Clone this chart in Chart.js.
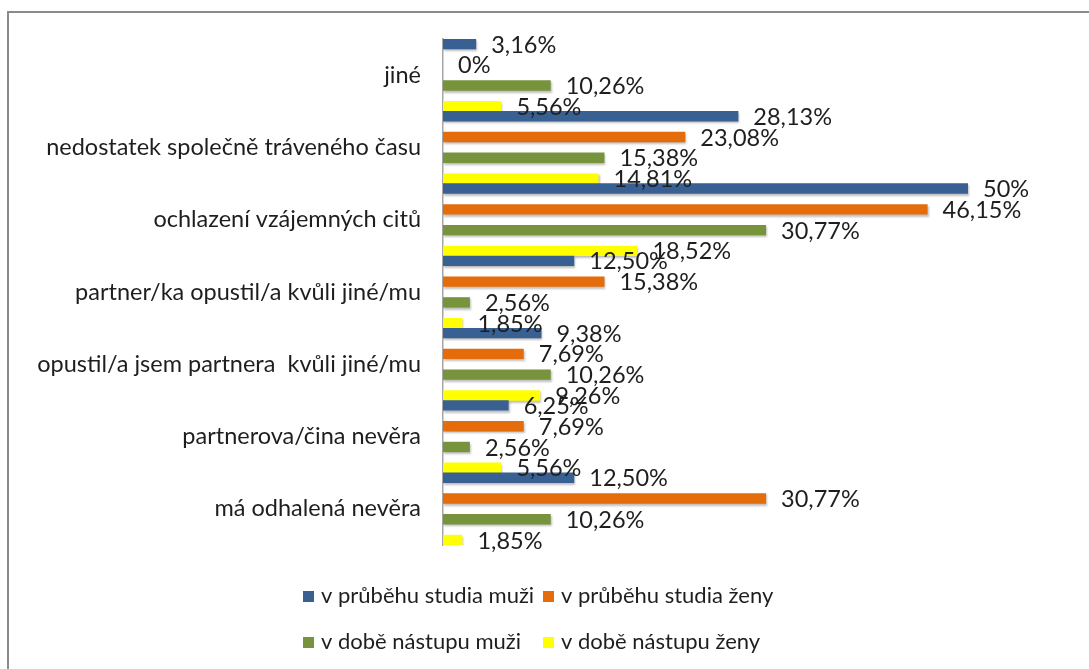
<!DOCTYPE html>
<html>
<head>
<meta charset="utf-8">
<script src="https://cdn.jsdelivr.net/npm/chart.js@4.4.0/dist/chart.umd.min.js"></script>
<style>
  html, body { margin: 0; padding: 0; background: #fff; }
  #wrap { width: 1089px; height: 669px; position: relative; }
</style>
</head>
<body>
<div id="wrap"><canvas id="chart"></canvas></div>
<script>
const categories = [
    'jiné',
    'nedostatek společně tráveného času',
    'ochlazení vzájemných citů',
    'partner/ka opustil/a kvůli jiné/mu',
    'opustil/a jsem partnera  kvůli jiné/mu',
    'partnerova/čina nevěra',
    'má odhalená nevěra'
];
const seriesNames = [
    'v průběhu studia muži',
    'v průběhu studia ženy',
    'v době nástupu muži',
    'v době nástupu ženy'
];
const studyMen   = [3.16, 28.13, 50, 12.50, 9.38, 6.25, 12.50];
const studyWomen = [0, 23.08, 46.15, 15.38, 7.69, 7.69, 30.77];
const startMen   = [10.26, 15.38, 30.77, 2.56, 10.26, 2.56, 10.26];
const startWomen = [5.56, 14.81, 18.52, 1.85, 9.26, 5.56, 1.85];

const seriesColors = ['#386093', '#e46c0a', '#77933c', '#ffff00'];
const FONT = 'Lato, "DejaVu Sans", sans-serif';
const ctx = document.getElementById('chart').getContext('2d');

// 3,16% style: integers without decimals, the rest with two
function formatPct(v) {
    const s = Number.isInteger(v) ? String(v) : v.toFixed(2);
    return s.replace('.', ',') + '%';
}

// frame of the original picture (only top and left edges are visible)
const framePlugin = {
    id: 'frame',
    beforeDraw(chart) {
        const c = chart.ctx;
        c.save();
        c.fillStyle = '#fff';
        c.fillRect(0, 0, chart.width, chart.height);
        c.strokeStyle = '#8a8a8a';
        c.lineWidth = 2;
        c.beginPath();
        c.moveTo(1089, 12);
        c.lineTo(8, 12);
        c.lineTo(8, 669);
        c.stroke();
        c.restore();
    }
};

// soft shadow under bars + value labels next to the bar ends
const barLabels = {
    id: 'barLabels',
    beforeDatasetsDraw(chart) {
        const c = chart.ctx;
        c.save();
        c.shadowColor = 'rgba(0,0,0,0.25)';
        c.shadowOffsetX = 1;
        c.shadowOffsetY = 2;
        c.shadowBlur = 2;
    },
    afterDatasetsDraw(chart) {
        const c = chart.ctx;
        c.restore();
        c.save();
        c.font = '23.5px ' + FONT;
        c.fillStyle = '#1e1e1e';
        c.textBaseline = 'middle';
        c.textAlign = 'left';
        chart.data.datasets.forEach((ds, i) => {
            chart.getDatasetMeta(i).data.forEach((bar, j) => {
                c.fillText(formatPct(ds.data[j]), bar.x + 15, bar.y + 1);
            });
        });
        c.restore();
    }
};

// legend in two columns, like the original
const gridLegend = {
    id: 'gridLegend',
    afterDraw(chart) {
        const c = chart.ctx;
        const cols = [303, 543];
        const rows = [596, 642];
        c.save();
        c.font = '22px ' + FONT;
        c.textBaseline = 'middle';
        chart.data.datasets.forEach((ds, i) => {
            const x = cols[i % 2];
            const y = rows[Math.floor(i / 2)];
            c.fillStyle = ds.backgroundColor;
            c.fillRect(x, y - 5, 11, 11);
            c.fillStyle = '#1e1e1e';
            c.fillText(ds.label, x + 18, y);
        });
        c.restore();
    }
};

const values = [studyMen, studyWomen, startMen, startWomen];

new Chart(ctx, {
    type: 'bar',
    data: {
        labels: categories,
        datasets: values.map((data, i) => ({
            label: seriesNames[i],
            data: data,
            backgroundColor: seriesColors[i],
            borderWidth: 0,
            categoryPercentage: 1.15,
            barPercentage: 0.5
        }))
    },
    options: {
        indexAxis: 'y',
        responsive: true,
        maintainAspectRatio: false,
        animation: false,
        layout: {
            padding: { left: 0, right: 16, top: 39, bottom: 124 }
        },
        plugins: {
            legend: { display: false },
            tooltip: { enabled: false }
        },
        scales: {
            x: {
                display: false,
                min: 0,
                max: 60
            },
            y: {
                grid: { display: false, drawTicks: false },
                border: { display: true, color: '#a6a6a6', width: 1.5 },
                ticks: {
                    padding: 22,
                    color: '#1e1e1e',
                    font: { family: FONT, size: 23.5 }
                },
                afterFit(scale) {
                    scale.width = 443;
                }
            }
        }
    },
    plugins: [framePlugin, barLabels, gridLegend]
});
</script>
</body>
</html>
